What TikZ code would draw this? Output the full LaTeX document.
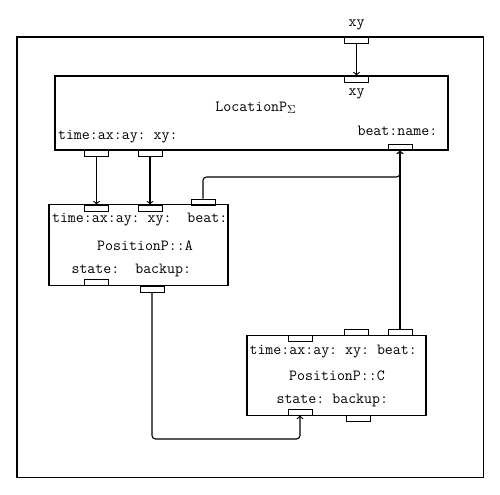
\documentclass[tikz,border=0pt]{standalone}
\usepackage{tikz}
\usetikzlibrary{positioning}

\begin{document}
\begin{tikzpicture}[x=0.025cm, y=-0.025cm, line width=0.8pt,
	font=\ttfamily\fontsize{11}{13}\selectfont\frenchspacing,
	box/.style={draw, rectangle, inner sep=0pt},
	port/.style={draw, rectangle, inner sep=0pt, minimum width=0.6cm, minimum height=0.15cm, line width=0.6pt},
	lbl/.style={inner sep=0pt, anchor=west},
	wire/.style={->, rounded corners=2.5pt}]
	\useasboundingbox (0,0) rectangle (500,494);

	\node[box, minimum width=11.65cm, minimum height=11cm] (outer) at (250, 257) {};
	\node[box, minimum width=9.825cm, minimum height=1.85cm] (loc) at (251.5, 113) {};
	\node[box, minimum width=4.475cm, minimum height=2.02cm] (posA) at (138.5, 245.3) {};
	\node[box, minimum width=4.475cm, minimum height=2cm] (posC) at (336.5, 375.3) {};

	\node[port] (pin) at (356.5, 40) {};
	\node[port] (locxy) at (356.5, 79) {};
	\node[port] (locbeat) at (400, 147) {};
	\node[port] (loctime) at (96.5, 153) {};
	\node[port] (locxyout) at (150, 153) {};

	\node[port] (atime) at (96.5, 208) {};
	\node[port] (axy) at (150, 208) {};
	\node[port] (abeat) at (203, 202) {};
	\node[port] (astate) at (96.5, 282.5) {};
	\node[port] (abackup) at (152, 289) {};

	\node[port] (ctime) at (300, 338) {};
	\node[port] (cxy) at (356, 332) {};
	\node[port] (cbeat) at (400, 332) {};
	\node[port] (cstate) at (300, 412) {};
	\node[port] (cbackup) at (358, 418) {};

	\node (xyin) at (356.5, 25) {xy};
	\node (xyloc) at (356.5, 94) {xy};
	\node (locname) at (256, 108) {LocationP$_\Sigma$};
	\node[lbl] (locout) at (57.5, 137) {time:ax:ay: xy:};
	\node[lbl] (locin) at (357, 131) {beat:name:};

	\node[lbl] (ain) at (51.5, 220) {time:ax:ay: xy:\ \ beat:};
	\node (aname) at (145, 246) {PositionP::A};
	\node[lbl] (aout) at (71, 270) {state:\ \ backup:};

	\node[lbl] (cin) at (249, 351.5) {time:ax:ay: xy: beat:};
	\node (cname) at (337, 375.5) {PositionP::C};
	\node[lbl] (cout) at (276, 400) {state: backup:};

	\coordinate (join) at (400, 177);
	\coordinate (low) at (300, 439);

	\draw[->] (pin.south) -- (locxy.north);
	\draw[->] (loctime.south) -- (atime.north);
	\draw[->] (locxyout.south) -- (axy.north);
	\draw[wire] (abeat.north) |- (join) -- (locbeat.south);
	\draw[->] (cbeat.north) -- (locbeat.south);
	\draw[wire] (abackup.south) |- (low) -- (cstate.south);

\end{tikzpicture}
\end{document}
